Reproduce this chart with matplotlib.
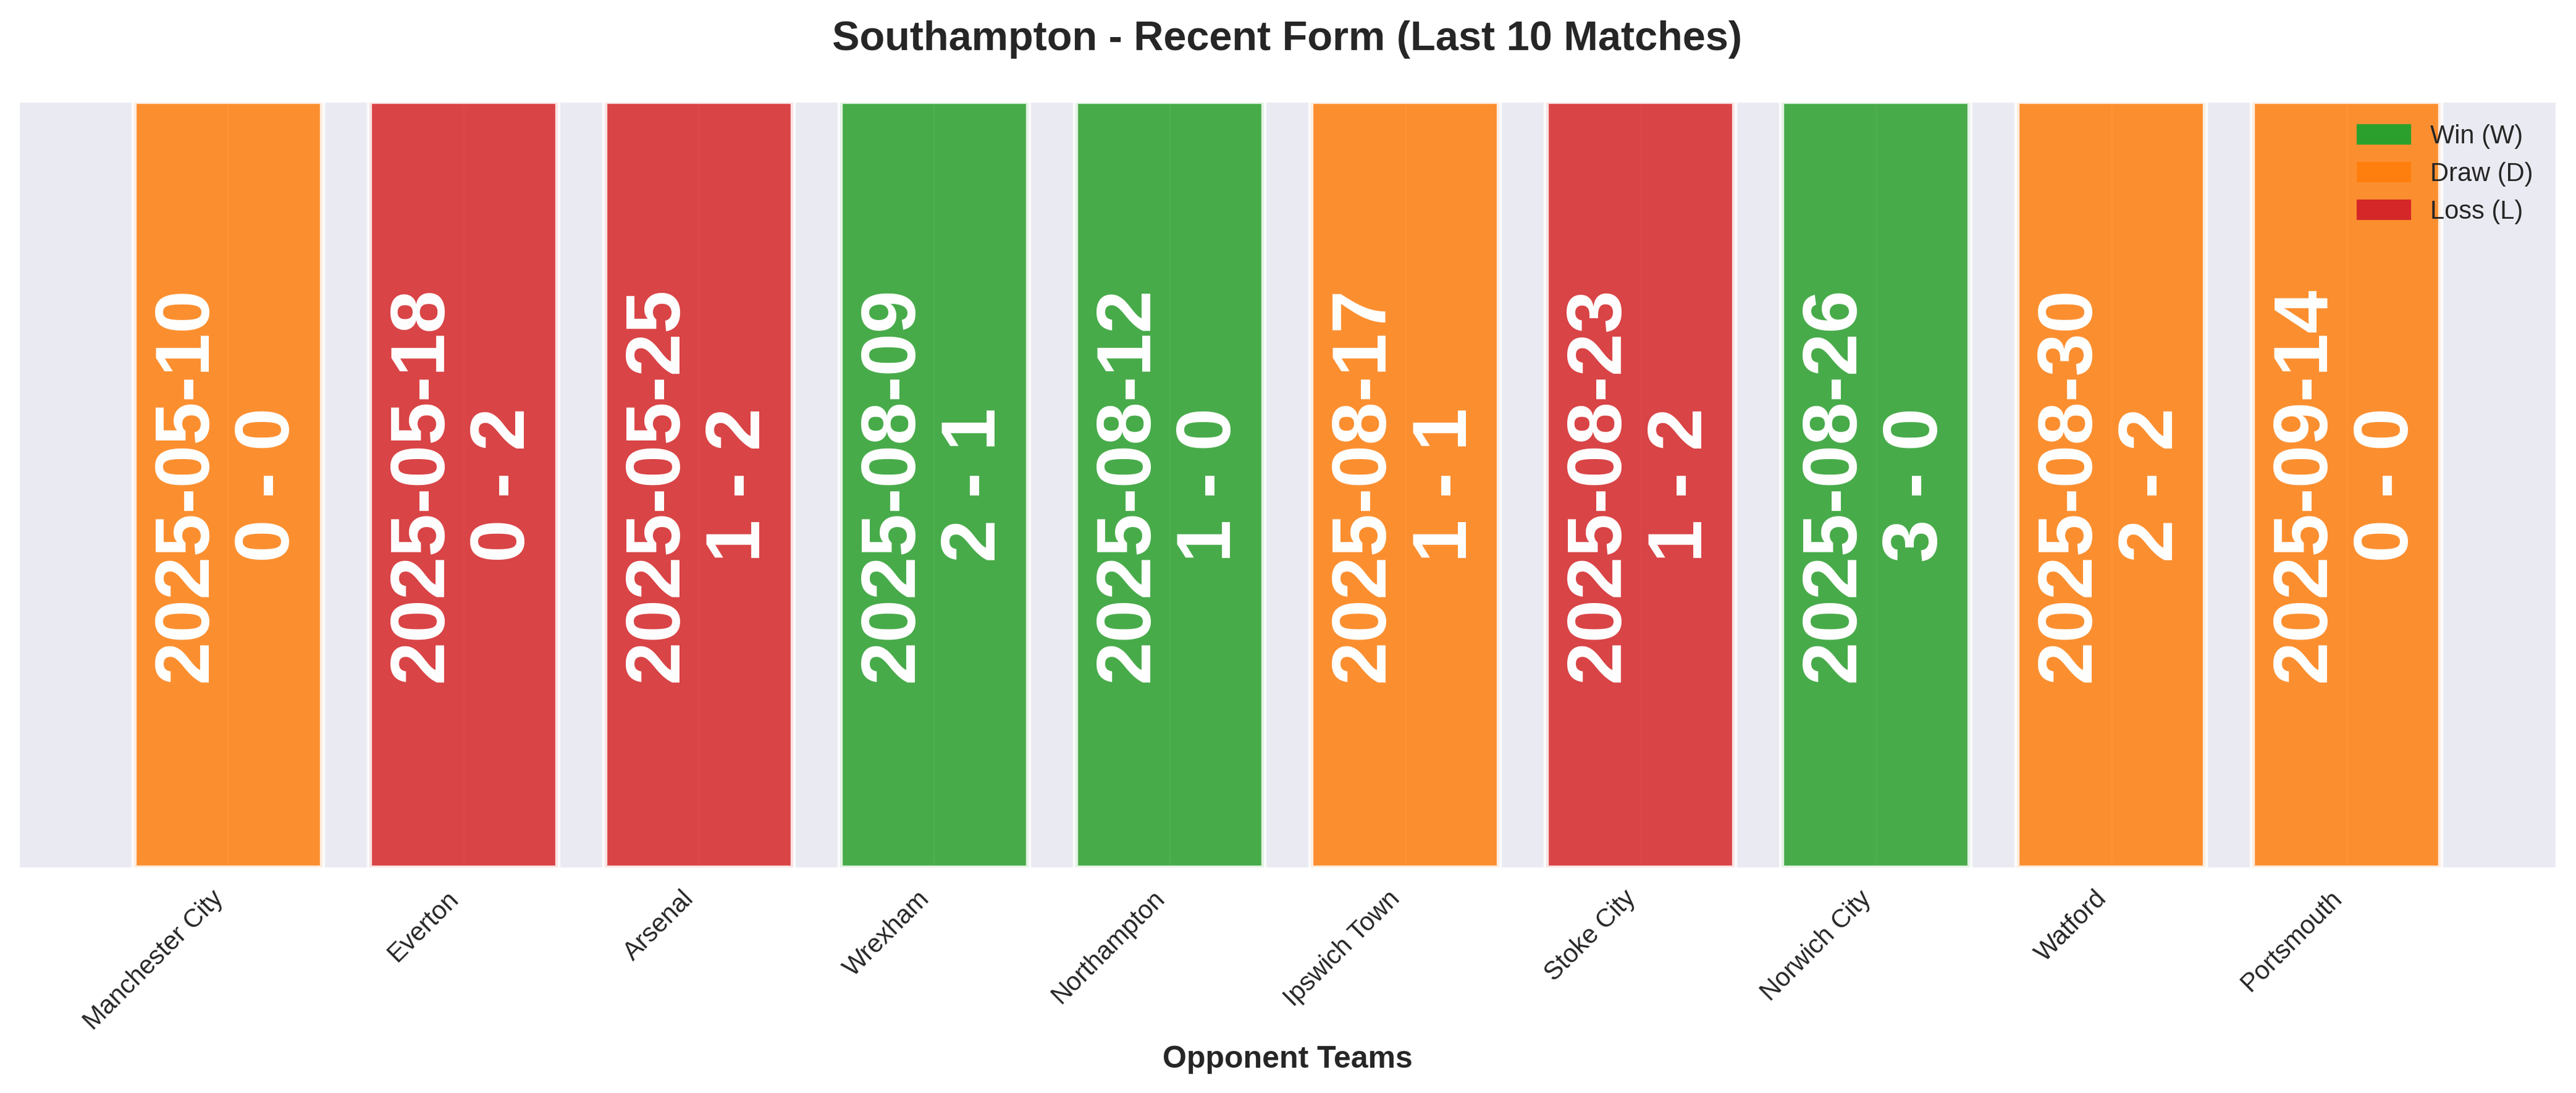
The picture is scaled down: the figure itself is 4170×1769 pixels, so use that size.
import matplotlib
matplotlib.use("Agg")
import matplotlib.pyplot as plt
import seaborn as sns
from matplotlib.patches import Patch

# match data, oldest first
opponents = ["Manchester City", "Everton", "Arsenal", "Wrexham", "Northampton",
             "Ipswich Town", "Stoke City", "Norwich City", "Watford", "Portsmouth"]
dates = ["2025-05-10", "2025-05-18", "2025-05-25", "2025-08-09", "2025-08-12",
         "2025-08-17", "2025-08-23", "2025-08-26", "2025-08-30", "2025-09-14"]
scores = ["0 - 0", "0 - 2", "1 - 2", "2 - 1", "1 - 0",
          "1 - 1", "1 - 2", "3 - 0", "2 - 2", "0 - 0"]
results = ["D", "L", "L", "W", "W", "D", "L", "W", "D", "D"]

result_colors = {"W": "#2ca02c", "D": "#ff7f0e", "L": "#d62728"}
result_names = {"W": "Win (W)", "D": "Draw (D)", "L": "Loss (L)"}

sns.set_style("darkgrid")
plt.rcParams["font.family"] = ["Liberation Sans", "DejaVu Sans"]

fig = plt.figure(figsize=(13.9, 1769 / 300), dpi=300)
ax = fig.add_axes([30 / 4170, 1 - 1405 / 1769, 4108 / 4170, (1405 - 164) / 1769])

x = list(range(len(opponents)))
colors = [result_colors[r] for r in results]
ax.bar(x, [1] * len(x), width=0.8, color=colors, alpha=0.85,
       edgecolor="white", linewidth=2)

for i in x:
    ax.text(i, 0.5, f"{dates[i]}\n{scores[i]}", rotation=90,
            ha="center", va="center", color="white",
            fontsize=30, fontweight="bold")

ax.set_ylim(0, 1)
ax.set_yticks([])
ax.set_xticks(x)
ax.set_xticklabels(opponents, rotation=45, ha="right", fontsize=10)
ax.set_xlabel("Opponent Teams", fontsize=12, fontweight="bold")
ax.set_title("Southampton - Recent Form (Last 10 Matches)",
             fontsize=16, fontweight="bold", pad=20)

handles = [Patch(color=result_colors[k], label=result_names[k]) for k in ["W", "D", "L"]]
ax.legend(handles=handles, loc="upper right", fontsize=10, frameon=False)

fig.savefig("out.png", dpi=300)
